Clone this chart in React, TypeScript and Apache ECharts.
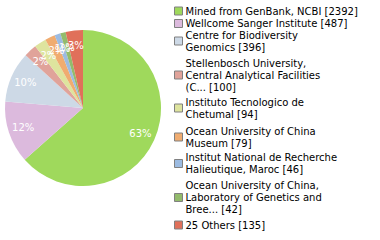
import React, { useEffect, useRef } from "react";
import * as echarts from "echarts";

const names = [
  "Mined from GenBank, NCBI",
  "Wellcome Sanger Institute",
  "Centre for Biodiversity Genomics",
  "Stellenbosch University, Central Analytical Facilities (C...",
  "Instituto Tecnologico de Chetumal",
  "Ocean University of China Museum",
  "Institut National de Recherche Halieutique, Maroc",
  "Ocean University of China, Laboratory of Genetics and Bree...",
  "25 Others",
];
const legendLabels = [
  "Mined from GenBank, NCBI [2392]",
  "Wellcome Sanger Institute [487]",
  "Centre for Biodiversity\nGenomics [396]",
  "Stellenbosch University,\nCentral Analytical Facilities\n(C... [100]",
  "Instituto Tecnologico de\nChetumal [94]",
  "Ocean University of China\nMuseum [79]",
  "Institut National de Recherche\nHalieutique, Maroc [46]",
  "Ocean University of China,\nLaboratory of Genetics and\nBree... [42]",
  "25 Others [135]",
];
const values = [2392, 487, 396, 100, 94, 79, 46, 42, 135];
const colors = [
  "#9fd95c",
  "#dcbadd",
  "#cdd9e6",
  "#e0a39a",
  "#dee49e",
  "#f0ac70",
  "#9cbbe1",
  "#93bb6c",
  "#e0705a",
];
const legendCenters = [11, 23.5, 41, 75, 108, 137, 163.5, 197.5, 225];

export default function App() {
  const ref = useRef<HTMLDivElement>(null);
  useEffect(() => {
    document.body.style.margin = "0";
    if (!ref.current) return;
    const chart = echarts.init(ref.current, null, { renderer: "svg" });
    const total = values.reduce((a, b) => a + b, 0);
    const data = names.map((n, i) => ({
      name: n,
      value: values[i],
      itemStyle: { color: colors[i] },
    }));
    const lineH = 12;
    const legends = names.map((n, i) => {
      const lines = legendLabels[i].split("\n").length;
      const h = lines * lineH;
      return {
        orient: "vertical",
        left: 174,
        top: legendCenters[i] - h / 2,
        data: [n],
        itemWidth: 8,
        itemHeight: 8,
        itemGap: 0,
        padding: 0,
        icon: "rect",
        itemStyle: { borderColor: "#808080", borderWidth: 1 },
        formatter: () => legendLabels[i],
        textStyle: {
          fontFamily: "DejaVu Sans",
          fontSize: 10,
          lineHeight: lineH,
          color: "#000",
          padding: [0, 0, 0, -2],
        },
        selectedMode: false,
      };
    });
    chart.setOption({
      animation: false,
      legend: legends,
      series: [
        {
          type: "pie",
          center: [83, 108],
          radius: [0, 78],
          startAngle: 90,
          clockwise: true,
          label: { show: false },
          labelLine: { show: false },
          emphasis: { disabled: true },
          data,
        },
        {
          type: "pie",
          center: [83, 108],
          radius: [42, 78],
          startAngle: 90,
          clockwise: true,
          silent: true,
          itemStyle: { color: "transparent" },
          label: {
            show: true,
            position: "inside",
            color: "#fff",
            fontFamily: "DejaVu Sans",
            fontSize: 10,
            formatter: (p: any) => Math.floor((p.value / total) * 100) + "%",
          },
          labelLine: { show: false },
          labelLayout: { hideOverlap: false },
          emphasis: { disabled: true },
          data: names.map((n, i) => ({ name: n + " ", value: values[i] })),
        },
      ],
    });
    return () => chart.dispose();
  }, []);
  return <div ref={ref} style={{ width: 380, height: 240 }} />;
}
